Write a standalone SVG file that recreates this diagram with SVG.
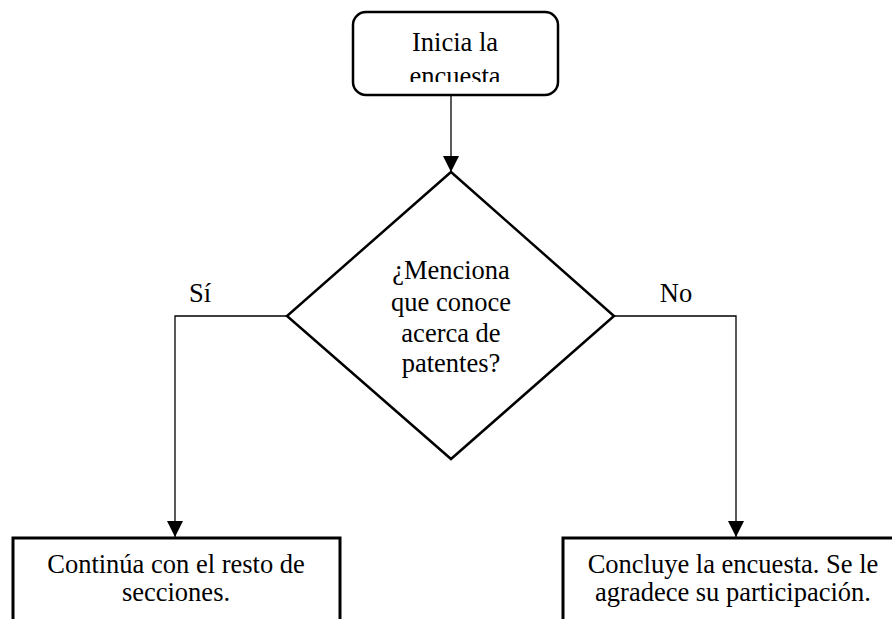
<svg xmlns="http://www.w3.org/2000/svg" width="892" height="619" viewBox="0 0 892 619">
<defs>
<style>
.t{font-family:"Liberation Serif","Times New Roman","DejaVu Serif",serif;font-size:26.5px;fill:#000;text-anchor:middle}
.n{fill:#fff;stroke:#000;stroke-width:2.5}
.c{fill:none;stroke:#000;stroke-width:1.3}
</style>
<marker id="ah" viewBox="0 0 16 16" refX="16" refY="8" markerWidth="16" markerHeight="16" markerUnits="userSpaceOnUse" orient="auto">
<path d="M0,0 L16,8 L0,16 Z" fill="#000"/>
</marker>
<clipPath id="cs"><rect x="354" y="14" width="202" height="68"/></clipPath>
</defs>
<rect width="892" height="619" fill="#fff"/>
<g id="connectors">
<line class="c" x1="451" y1="95" x2="451" y2="172" marker-end="url(#ah)"/>
<polyline class="c" points="287,316 175,316 175,537" marker-end="url(#ah)"/>
<polyline class="c" points="614,316 736,316 736,537" marker-end="url(#ah)"/>
</g>
<g id="start">
<rect class="n" x="353" y="12" width="205" height="83" rx="13"/>
<g clip-path="url(#cs)">
<text class="t" x="455" y="51">Inicia la</text>
<text class="t" x="455" y="85">encuesta</text>
</g>
</g>
<g id="decision">
<polygon class="n" points="451,172 614,316 451,459 287,316"/>
<text class="t" x="451" y="279">¿Menciona</text>
<text class="t" x="451" y="311">que conoce</text>
<text class="t" x="451" y="342">acerca de</text>
<text class="t" x="451" y="372">patentes?</text>
</g>
<g id="label-si"><text class="t" x="200" y="302">Sí</text></g>
<g id="label-no"><text class="t" x="676" y="302">No</text></g>
<g id="continue">
<rect class="n" x="13" y="538" width="327" height="100" style="stroke-width:3"/>
<text class="t" x="176" y="573">Continúa con el resto de</text>
<text class="t" x="176" y="601">secciones.</text>
</g>
<g id="end">
<rect class="n" x="563" y="538" width="340" height="100" style="stroke-width:3"/>
<text class="t" x="733" y="573">Concluye la encuesta. Se le</text>
<text class="t" x="733" y="601">agradece su participación.</text>
</g>
</svg>
